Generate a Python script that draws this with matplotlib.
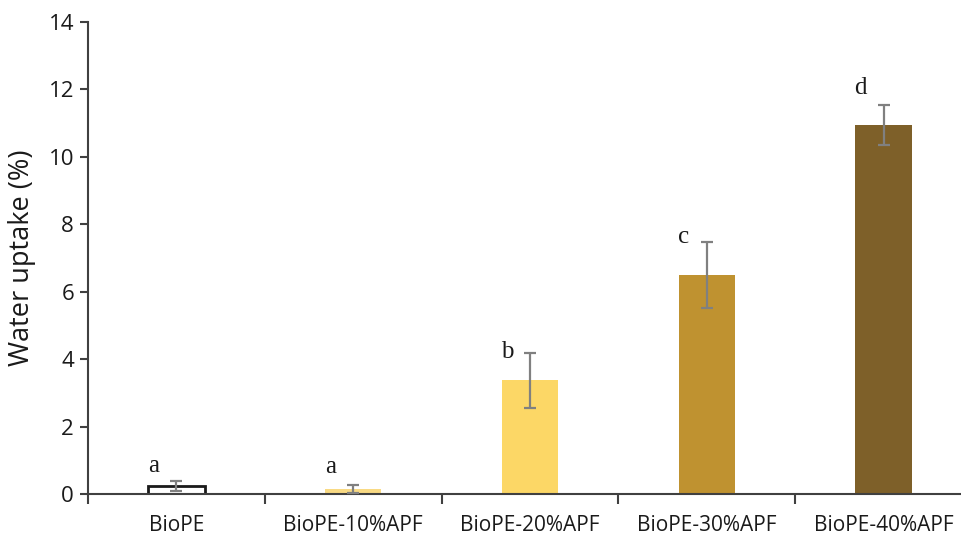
import numpy as np
import matplotlib
matplotlib.use('Agg')
from matplotlib import pyplot as plt

samples = ['BioPE', 'BioPE-10%APF', 'BioPE-20%APF', 'BioPE-30%APF', 'BioPE-40%APF']
uptake = [0.25, 0.15, 3.37, 6.50, 10.95]
errors = [0.15, 0.12, 0.82, 0.98, 0.59]
letters = ['a', 'a', 'b', 'c', 'd']
letter_y = [0.83, 0.80, 4.21, 7.63, 12.05]
colors = ['white', '#F9DA84', '#FCD766', '#BF9230', '#7E6029']
edges = ['#1a1a1a', '#F9DA84', '#FCD766', '#BF9230', '#7E6029']

W, H = 962, 538
fig = plt.figure(figsize=(W / 100, H / 100), dpi=100)
ax = fig.add_axes([88 / W, 44 / H, (W - 88) / W, (494 - 22) / H])

x = np.arange(len(samples))
ax.bar(x, uptake, width=0.32, color=colors, edgecolor=edges,
       linewidth=[2, 0, 0, 0, 0], zorder=2)
ax.errorbar(x, uptake, yerr=errors, fmt='none', ecolor='#808080',
            elinewidth=1.6, capsize=4, capthick=1.6, zorder=3)

for xi, lab, ly in zip(x, letters, letter_y):
    ax.text(xi - 0.13, ly, lab, ha='center', va='center',
            family='Liberation Serif', fontsize=18, color='#1a1a1a')

ax.set_ylim(0, 14)
ax.set_xlim(-0.5, 4.5 - 10 / 177)
ax.set_yticks(range(0, 15, 2))
ax.set_ylabel('Water uptake (%)', family='Open Sans', fontsize=19.5,
              color='#1a1a1a', labelpad=9)

ax.set_xticks(np.arange(-0.5, 4.5, 1.0))
ax.set_xticklabels([])
ax.set_xticks(x, minor=True)
ax.set_xticklabels(samples, minor=True, family='Open Sans', fontsize=15,
                   color='#1a1a1a')
ax.tick_params(axis='x', which='major', length=7, width=1.5, color='#404040',
               direction='out')
ax.tick_params(axis='x', which='minor', length=0, pad=15)
ax.tick_params(axis='y', length=6, width=1.5, color='#404040', pad=4)
for lab in ax.get_yticklabels():
    lab.set_family('Open Sans')
    lab.set_fontsize(16)
    lab.set_color('#1a1a1a')

for side in ['top', 'right']:
    ax.spines[side].set_visible(False)
for side in ['left', 'bottom']:
    ax.spines[side].set_color('#404040')
    ax.spines[side].set_linewidth(1.5)

fig.savefig('out.png', dpi=100)
